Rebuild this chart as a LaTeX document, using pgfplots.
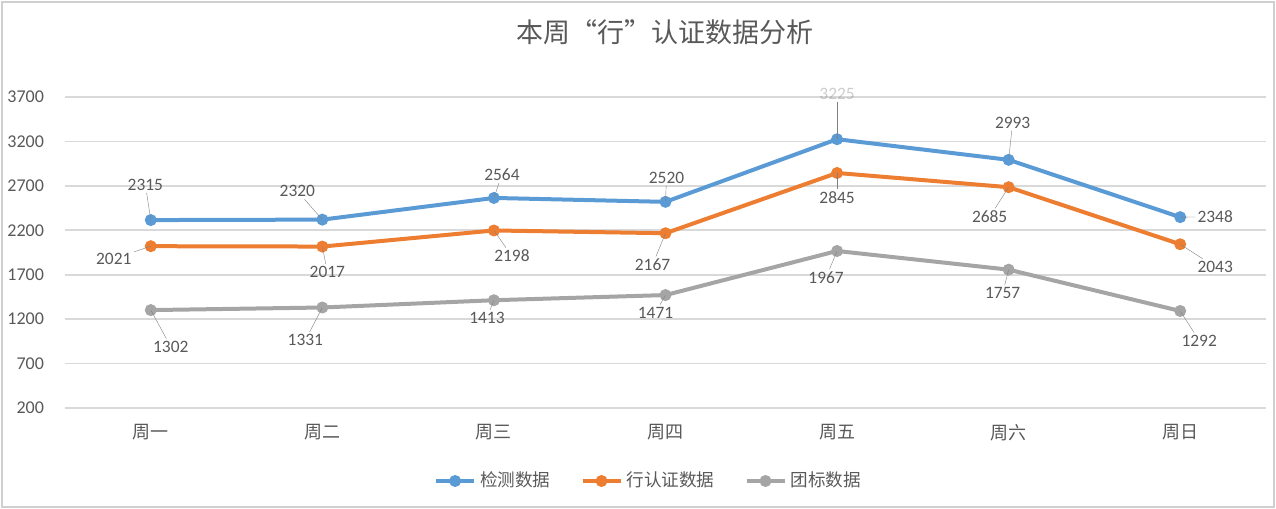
\documentclass[border=0pt]{standalone}
\usepackage{pgfplots}
\usepackage{pgfplotstable}
\usepackage{fontspec}
\pgfplotsset{compat=1.18}
\setmainfont{Carlito}
\newfontfamily\cjk{Noto Sans CJK SC}

\definecolor{sBlue}{HTML}{5B9BD5}
\definecolor{sOrange}{HTML}{ED7D31}
\definecolor{sGray}{HTML}{A5A5A5}
\definecolor{txt}{HTML}{595959}
\definecolor{gridc}{HTML}{D9D9D9}
\definecolor{lead}{HTML}{A6A6A6}
\definecolor{frame}{HTML}{D0D0D0}

% x = day (0 = Monday), y = value, dx/dy = label offset in pt,
% ln = draw leader line, op = label opacity
\pgfplotstableread{
x y    dx    dy    ln op
0 2315 -2.7  17.5  1  1
1 2320 -12.5 14    1  1
2 2564 4     11.5  0  1
3 2520 0.5   12    1  1
4 3225 0     22.5  1  0.3
5 2993 2     18.5  1  1
6 2348 17.5  0     0  1
}\jiance

\pgfplotstableread{
x y    dx    dy    ln op
0 2021 -18.5 -6.5  1  1
1 2017 2.5   -13   1  1
2 2198 9     -13   1  1
3 2167 -6.5  -16   1  1
4 2845 0     -12.5 1  1
5 2685 -9.5  -15   1  1
6 2043 17.5  -11.5 1  1
}\hangrenzheng

\pgfplotstableread{
x y    dx    dy    ln op
0 1302 10    -18.5 1  1
1 1331 -8.5  -16.5 1  1
2 1413 -3.5  -9    0  1
3 1471 -5    -9    0  1
4 1967 -5.5  -13.5 1  1
5 1757 -3    -12   0  1
6 1292 9.5   -15   1  1
}\tuanbiao

\pgfplotsset{
  % value labels with optional leader lines, drawn as a separate pass
  valuelabels/.style={
    forget plot, draw=none, mark=none,
    point meta=explicit symbolic,
    nodes near coords={},
    visualization depends on={\thisrow{dx}\as\dx},
    visualization depends on={\thisrow{dy}\as\dy},
    visualization depends on={\thisrow{ln}\as\lnk},
    visualization depends on={\thisrow{op}\as\lop},
    every node near coord/.style={
      inner sep=0pt, minimum size=0pt, anchor=center,
      pin edge={lead, line width=0.9pt, shorten <=4pt, draw opacity=\lnk},
      pin={[pin distance=0pt, anchor=center, xshift=\dx pt, yshift=\dy pt,
            inner sep=1pt, font=\fontsize{8.7}{10}\selectfont,
            text=txt, text opacity=\lop]90:\pgfplotspointmeta}
    },
  },
  series/.style={
    color=#1, line width=2pt, line join=round,
    mark=*, mark size=2.75pt, mark options={solid, line width=0.5pt},
  },
}

\begin{document}
\begin{tikzpicture}
\begin{axis}[
  at={(0,0)}, anchor=south west,
  scale only axis, width=600.5pt, height=155.5pt,
  xmin=-0.5, xmax=6.5, ymin=200, ymax=3700,
  xtick={0,...,6},
  xticklabels={周一,周二,周三,周四,周五,周六,周日},
  xticklabel style={font=\cjk\fontsize{9}{11}\selectfont, text=txt, yshift=-4.5pt},
  ytick={200,700,...,3700},
  yticklabel style={font=\fontsize{9}{11}\selectfont, text=txt, xshift=-7pt},
  /pgf/number format/assume math mode=true,
  /pgf/number format/1000 sep={},
  axis line style={draw=none},
  major tick length=0pt,
  ymajorgrids,
  grid style={gridc, line width=0.8pt},
  clip=false,
  title={本周“行”认证数据分析},
  title style={font=\cjk\fontsize{13.5}{16}\selectfont, text=txt,
               at={(0.5,1)}, anchor=center, yshift=26.5pt},
  legend columns=3,
  legend cell align=left,
  legend style={at={(0.4867,-0.2347)}, anchor=center, draw=none, fill=none,
                font=\cjk\fontsize{8.8}{10}\selectfont, text=txt,
                /tikz/every even column/.append style={column sep=13pt}},
  legend image code/.code={%
    \draw[mark repeat=2, mark phase=2]
      plot coordinates {(0pt,0pt) (9.5pt,0pt) (19pt,0pt)};},
]
\addplot[series=sBlue] table[x=x, y=y] {\jiance};
\addlegendentry{检测数据}
\addplot[series=sOrange] table[x=x, y=y] {\hangrenzheng};
\addlegendentry{行认证数据}
\addplot[series=sGray] table[x=x, y=y] {\tuanbiao};
\addlegendentry{团标数据}

\addplot[valuelabels] table[x=x, y=y, meta=y] {\jiance};
\addplot[valuelabels] table[x=x, y=y, meta=y] {\hangrenzheng};
\addplot[valuelabels] table[x=x, y=y, meta=y] {\tuanbiao};
\end{axis}
\draw[frame, line width=0.6pt] (-31.5pt,-49.5pt) rectangle (604.5pt,203pt);
\pgfresetboundingbox
\useasboundingbox (-32.5pt,-50.5pt) rectangle (605.5pt,204pt);
\end{tikzpicture}
\end{document}
